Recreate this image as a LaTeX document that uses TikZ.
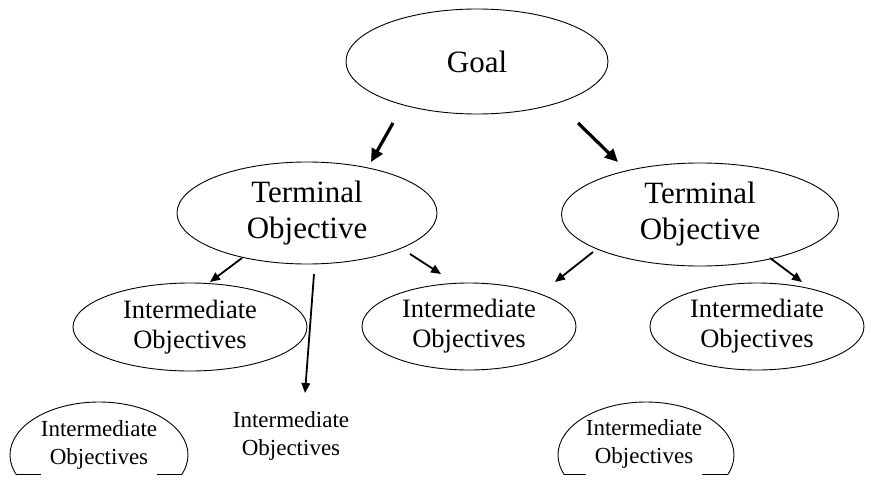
\documentclass[tikz,border=0pt]{standalone}
\usepackage{fontspec}
\setmainfont{Liberation Serif}
\usetikzlibrary{shapes.geometric,arrows.meta}
\begin{document}
\begin{tikzpicture}[x=1pt,y=-1pt,
  oval/.style={draw, ellipse, line width=0.9pt, inner sep=0pt, align=center},
  bigtxt/.style={font=\fontsize{31}{36}\selectfont},
  midtxt/.style={font=\fontsize{26.5}{30}\selectfont},
  smalltxt/.style={font=\fontsize{23}{28}\selectfont, align=center},
  boxtxt/.style={smalltxt, fill=white, inner xsep=0pt, inner ysep=1pt},
  bigarrow/.style={line width=3.2pt, -{Triangle[length=13pt,width=12pt]}},
  arr/.style={line width=1.8pt, -{Triangle[length=10pt,width=8.5pt]}},
  outline/.style={line width=0.9pt}]
\useasboundingbox (0,0) rectangle (875,487);

% top levels
\node[oval,bigtxt,minimum width=262,minimum height=105] (goal) at (477,61.5) {Goal};
\node[oval,bigtxt,minimum width=260,minimum height=102] (tl) at (307,213) {Terminal\\Objective};
\node[oval,bigtxt,minimum width=277,minimum height=103] (tr) at (700,214.5) {Terminal\\Objective};

% intermediate row
\node[oval,midtxt,minimum width=234,minimum height=88] (il) at (190,327) {Intermediate\\Objectives};
\node[oval,midtxt,minimum width=214,minimum height=87] (im) at (469,326.5) {Intermediate\\Objectives};
\node[oval,midtxt,minimum width=214,minimum height=87] (ir) at (757,326.5) {Intermediate\\Objectives};

% bottom row (ellipses cut off at the bottom)
\begin{scope}
  \clip (0,0) rectangle (875,474);
  \draw[outline] (99,455) ellipse [x radius=89, y radius=53];
  \draw[outline] (646,455) ellipse [x radius=88, y radius=53];
\end{scope}
\draw[outline] (16,474) -- (182,474);
\draw[outline] (564,474) -- (728,474);

\node[boxtxt] (bl) at (99,447.4) {Intermediate\\Objectives\rule[-10.5pt]{0pt}{1pt}};
\node[smalltxt] (bm) at (291,436) {Intermediate\\Objectives};
\node[boxtxt] (br) at (644,446.4) {Intermediate\\Objectives\rule[-10.5pt]{0pt}{1pt}};

% arrows
\draw[bigarrow] ([shift={(-84,61.5)}]goal.center) -- ([shift={(64,-51)}]tl.center);
\draw[bigarrow] ([shift={(101,61.5)}]goal.center) -- ([shift={(-82,-52.5)}]tr.center);

\draw[arr] ([shift={(-65,45)}]tl.center) -- ([shift={(20,-45)}]il.center);
\draw[arr] ([shift={(103,41)}]tl.center) -- ([shift={(-28,-52.5)}]im.center);
\draw[arr] ([shift={(7,61)}]tl.center) -- ([shift={(14,-43)}]bm.center);

\draw[arr] ([shift={(-107,37.5)}]tr.center) -- ([shift={(86,-44.5)}]im.center);
\draw[arr] ([shift={(70,43.5)}]tr.center) -- ([shift={(45,-44.5)}]ir.center);
\end{tikzpicture}
\end{document}
